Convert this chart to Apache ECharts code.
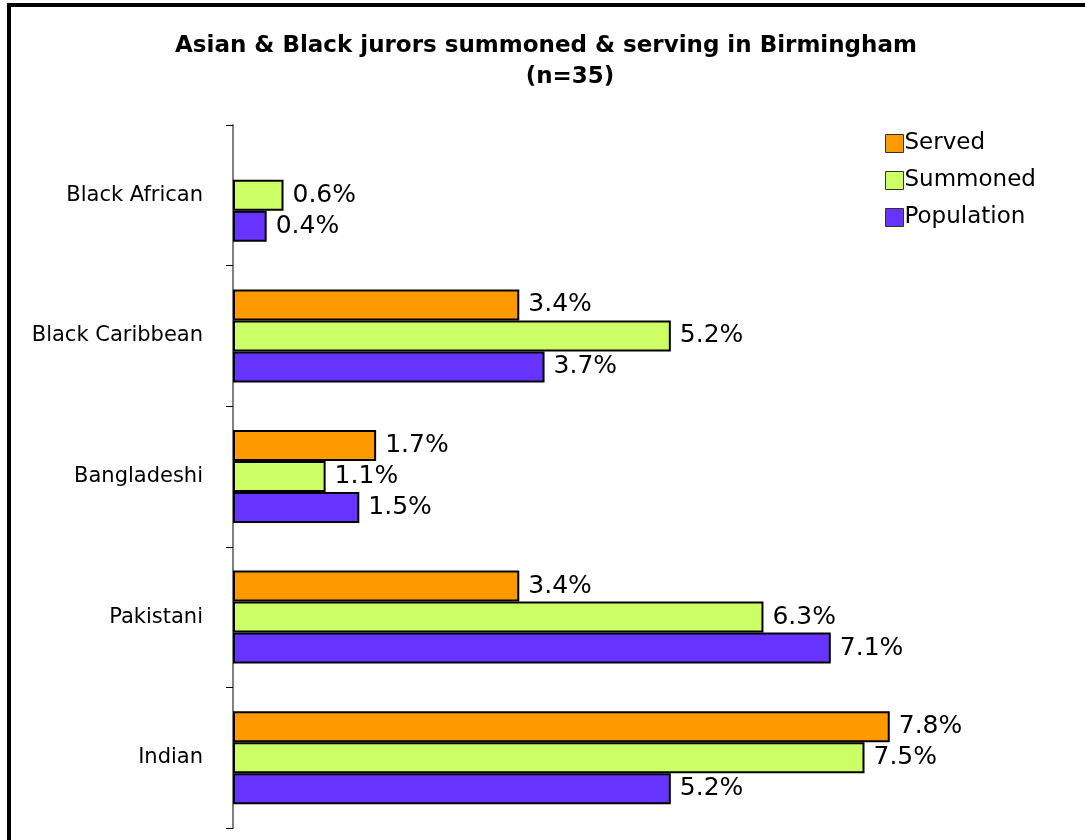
<!DOCTYPE html>
<html>
<head>
<meta charset="utf-8">
<style>
  html, body { margin: 0; padding: 0; background: #fff; }
  #chart { width: 1085px; height: 840px; }
</style>
<script src="https://cdn.jsdelivr.net/npm/echarts@6/dist/echarts.min.js"></script>
</head>
<body>
<div id="chart"></div>
<script>
// Groups listed top to bottom
const categories = ['Black African', 'Black Caribbean', 'Bangladeshi', 'Pakistani', 'Indian'];
// Percentages per group (null = no bar)
const served     = [null, 3.4, 1.7, 3.4, 7.8];
const summoned   = [0.6, 5.2, 1.1, 6.3, 7.5];
const population = [0.4, 3.7, 1.5, 7.1, 5.2];
const seriesNames = ['Served', 'Summoned', 'Population'];
const seriesColors = ['#FF9900', '#CCFF66', '#6633FF'];

const FONT = '"DejaVu Sans", Verdana, sans-serif';

const chart = echarts.init(document.getElementById('chart'), null, { renderer: 'canvas' });

function makeSeries(name, data, color) {
  return {
    name: name,
    type: 'bar',
    data: data,
    barWidth: 31,
    barGap: '0%',
    itemStyle: { color: color, borderColor: '#000', borderWidth: 2 },
    label: {
      show: true,
      position: 'right',
      distance: 9,
      formatter: p => p.value.toFixed(1) + '%',
      color: '#000',
      fontFamily: FONT,
      fontSize: 25
    },
    emphasis: { disabled: true },
    animation: false
  };
}

chart.setOption({
  backgroundColor: '#fff',
  animation: false,
  title: [
    {
      text: 'Asian & Black jurors summoned & serving in Birmingham',
      left: 541, top: 30, textAlign: 'center',
      textStyle: { fontFamily: FONT, fontWeight: 'bold', fontSize: 23, color: '#000' }
    },
    {
      text: '(n=35)',
      left: 565, top: 61, textAlign: 'center',
      textStyle: { fontFamily: FONT, fontWeight: 'bold', fontSize: 23, color: '#000' }
    }
  ],
  legend: {
    orient: 'vertical',
    left: 880, top: 127,
    itemWidth: 18, itemHeight: 18, itemGap: 14,
    icon: 'rect',
    data: seriesNames,
    textStyle: { fontFamily: FONT, fontSize: 23, lineHeight: 21, color: '#000', padding: [0, 0, 0, -4] },
    itemStyle: { borderColor: '#333', borderWidth: 1 },
    selectedMode: false
  },
  grid: { left: 233, top: 125, width: 842, height: 703, containLabel: false },
  xAxis: {
    type: 'value', min: 0, max: 10,
    show: false
  },
  yAxis: {
    type: 'category',
    data: categories,
    inverse: true,
    axisLine: { show: true, lineStyle: { color: '#808080', width: 2 } },
    axisTick: { show: true, length: 7, lineStyle: { color: '#000', width: 1 } },
    axisLabel: { fontFamily: FONT, fontSize: 21, color: '#000', margin: 30 },
    splitLine: { show: false }
  },
  series: [
    makeSeries(seriesNames[0], served, seriesColors[0]),
    makeSeries(seriesNames[1], summoned, seriesColors[1]),
    makeSeries(seriesNames[2], population, seriesColors[2])
  ],
  graphic: [
    { type: 'rect', shape: { x: 7, y: 3, width: 4, height: 840 }, style: { fill: '#000' }, silent: true },
    { type: 'rect', shape: { x: 7, y: 3, width: 1085, height: 4 }, style: { fill: '#000' }, silent: true }
  ]
});
</script>
</body>
</html>
